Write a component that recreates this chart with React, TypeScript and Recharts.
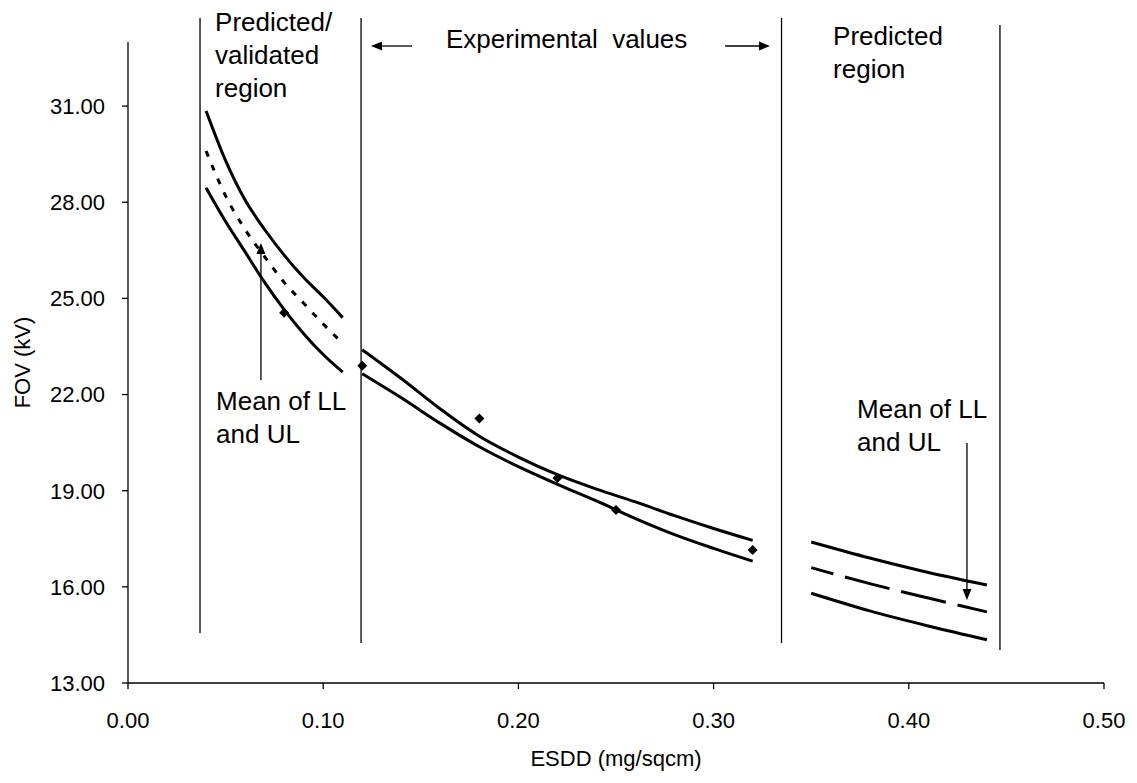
import React from "react";
import {
  ComposedChart,
  Line,
  Scatter,
  XAxis,
  YAxis,
  ReferenceLine,
  ReferenceDot,
} from "recharts";

// predicted / validated region (LL, mean, UL)
const predX = [0.04, 0.05, 0.06, 0.07, 0.08, 0.09, 0.1, 0.11];
const predUL = [30.85, 29.3, 28.07, 27.15, 26.35, 25.65, 25.05, 24.4];
const predMean = [29.6, 28.2, 27.15, 26.3, 25.5, 24.85, 24.2, 23.6];
const predLL = [28.45, 27.4, 26.45, 25.5, 24.65, 23.9, 23.25, 22.7];

// experimental region
const expX = [0.12, 0.14, 0.16, 0.18, 0.2, 0.22, 0.24, 0.26, 0.28, 0.3, 0.32];
const expUL = [23.4, 22.5, 21.55, 20.7, 20.05, 19.5, 19.05, 18.65, 18.22, 17.82, 17.45];
const expLL = [22.65, 21.9, 21.1, 20.37, 19.75, 19.2, 18.68, 18.13, 17.63, 17.2, 16.8];

// predicted region
const farX = [0.35, 0.38, 0.41, 0.44];
const farUL = [17.4, 16.9, 16.45, 16.06];
const farMean = [16.6, 16.1, 15.65, 15.22];
const farLL = [15.8, 15.25, 14.78, 14.35];

// measured values
const pointX = [0.08, 0.12, 0.18, 0.22, 0.25, 0.32];
const pointY = [24.55, 22.9, 21.25, 19.4, 18.4, 17.15];

const xTicks = [0, 0.1, 0.2, 0.3, 0.4, 0.5];
const yTicks = [13, 16, 19, 22, 25, 28, 31];

// region separators: x, bottom, top
const dividerX = [0.0369, 0.1194, 0.3348, 0.4467];
const dividerBottom = [14.56, 14.25, 14.25, 14.03];
const dividerTop = [33.75, 33.75, 33.75, 33.53];

const zip = (xs: number[], ys: number[]) => xs.map((x, i) => ({ x, y: ys[i] }));

const FONT = "'Liberation Sans', Arial, sans-serif";
const FS = 22;
const NOTE_FS = 26;

const Diamond = (props: any) => {
  const { cx, cy } = props;
  const r = 5;
  return (
    <polygon
      points={`${cx},${cy - r} ${cx + r},${cy} ${cx},${cy + r} ${cx - r},${cy}`}
      fill="#000"
    />
  );
};

const Arrow = (props: any) => {
  const { x1, y1, x2, y2 } = props;
  const dx = x2 - x1;
  const dy = y2 - y1;
  const len = Math.sqrt(dx * dx + dy * dy) || 1;
  const ux = dx / len;
  const uy = dy / len;
  const head = 11;
  const half = 4.5;
  const bx = x2 - ux * head;
  const by = y2 - uy * head;
  return (
    <g>
      <line x1={x1} y1={y1} x2={bx} y2={by} stroke="#000" strokeWidth={1.3} />
      <polygon
        points={`${x2},${y2} ${bx - uy * half},${by + ux * half} ${bx + uy * half},${by - ux * half}`}
        fill="#000"
      />
    </g>
  );
};

const note = (lines: string[]) => (props: any) => {
  const { cx, cy } = props;
  return (
    <text x={cx} y={cy} fontSize={NOTE_FS} fontFamily={FONT} fill="#000">
      {lines.map((l, i) => (
        <tspan key={i} x={cx} dy={i === 0 ? 0 : 33}>
          {l}
        </tspan>
      ))}
    </text>
  );
};

export default function App() {
  const tickStyle = { fill: "#000", fontSize: FS, fontFamily: FONT };
  return (
    <div style={{ position: "absolute", left: 0, top: 0, background: "#fff" }}>
      <ComposedChart
        width={1137}
        height={783}
        margin={{ top: 42, right: 33, bottom: 10, left: 0 }}
      >
        <XAxis
          type="number"
          dataKey="x"
          domain={[0, 0.5]}
          ticks={xTicks}
          allowDataOverflow
          tickFormatter={(v: number) => v.toFixed(2)}
          height={90}
          axisLine={{ stroke: "#000", strokeWidth: 1.3 }}
          tickLine={{ stroke: "#000", strokeWidth: 1.3 }}
          tickSize={6}
          tickMargin={23}
          tick={tickStyle}
          label={{
            content: (p: any) => {
              const vb = p.viewBox;
              return (
                <text
                  x={vb.x + vb.width / 2}
                  y={vb.y + vb.height - 7}
                  textAnchor="middle"
                  fontSize={FS}
                  fontFamily={FONT}
                  fill="#000"
                >
                  ESDD (mg/sqcm)
                </text>
              );
            },
          }}
        />
        <YAxis
          type="number"
          domain={[13, 33]}
          ticks={yTicks}
          allowDataOverflow
          tickFormatter={(v: number) => v.toFixed(2)}
          width={128}
          axisLine={{ stroke: "#000", strokeWidth: 1.3 }}
          tickLine={{ stroke: "#000", strokeWidth: 1.3 }}
          tickSize={6}
          tickMargin={17}
          tick={tickStyle}
          label={{
            content: (p: any) => {
              const vb = p.viewBox;
              const x = 30;
              const y = vb.y + vb.height / 2;
              return (
                <text
                  x={x}
                  y={y}
                  transform={`rotate(-90 ${x} ${y})`}
                  textAnchor="middle"
                  fontSize={FS}
                  fontFamily={FONT}
                  fill="#000"
                >
                  FOV (kV)
                </text>
              );
            },
          }}
        />

        {dividerX.map((x, i) => (
          <ReferenceLine
            key={"d" + i}
            segment={[
              { x, y: dividerBottom[i] },
              { x, y: dividerTop[i] },
            ]}
            stroke="#000"
            strokeWidth={1.3}
            ifOverflow="visible"
          />
        ))}

        <Line data={zip(predX, predUL)} dataKey="y" type="monotone" stroke="#000" strokeWidth={3} dot={false} activeDot={false} isAnimationActive={false} />
        <Line data={zip(predX, predMean)} dataKey="y" type="monotone" stroke="#000" strokeWidth={3} strokeDasharray="6 9" dot={false} activeDot={false} isAnimationActive={false} />
        <Line data={zip(predX, predLL)} dataKey="y" type="monotone" stroke="#000" strokeWidth={3} dot={false} activeDot={false} isAnimationActive={false} />

        <Line data={zip(expX, expUL)} dataKey="y" type="monotone" stroke="#000" strokeWidth={3} dot={false} activeDot={false} isAnimationActive={false} />
        <Line data={zip(expX, expLL)} dataKey="y" type="monotone" stroke="#000" strokeWidth={3} dot={false} activeDot={false} isAnimationActive={false} />

        <Line data={zip(farX, farUL)} dataKey="y" type="monotone" stroke="#000" strokeWidth={3} dot={false} activeDot={false} isAnimationActive={false} />
        <Line data={zip(farX, farMean)} dataKey="y" type="monotone" stroke="#000" strokeWidth={3} strokeDasharray="23 12 46 12 46 12 46 12" dot={false} activeDot={false} isAnimationActive={false} />
        <Line data={zip(farX, farLL)} dataKey="y" type="monotone" stroke="#000" strokeWidth={3} dot={false} activeDot={false} isAnimationActive={false} />

        <Scatter data={zip(pointX, pointY)} dataKey="y" shape={Diamond} isAnimationActive={false} />

        {/* arrows */}
        <ReferenceLine segment={[{ x: 0.1455, y: 32.875 }, { x: 0.1245, y: 32.875 }]} shape={Arrow} ifOverflow="visible" />
        <ReferenceLine segment={[{ x: 0.3059, y: 32.875 }, { x: 0.3289, y: 32.875 }]} shape={Arrow} ifOverflow="visible" />
        <ReferenceLine segment={[{ x: 0.0681, y: 22.45 }, { x: 0.0681, y: 26.73 }]} shape={Arrow} ifOverflow="visible" />
        <ReferenceLine segment={[{ x: 0.4298, y: 20.49 }, { x: 0.4298, y: 15.59 }]} shape={Arrow} ifOverflow="visible" />

        {/* text notes */}
        <ReferenceDot x={0.0446} y={33.34} r={1} ifOverflow="visible" shape={note(["Predicted/", "validated", "region"])} />
        <ReferenceDot x={0.1629} y={32.81} r={1} ifOverflow="visible" shape={note(["Experimental\u00a0 values"])} />
        <ReferenceDot x={0.3612} y={32.92} r={1} ifOverflow="visible" shape={note(["Predicted", "region"])} />
        <ReferenceDot x={0.0451} y={21.53} r={1} ifOverflow="visible" shape={note(["Mean of LL", "and UL"])} />
        <ReferenceDot x={0.3735} y={21.28} r={1} ifOverflow="visible" shape={note(["Mean of LL", "and UL"])} />
      </ComposedChart>
    </div>
  );
}
